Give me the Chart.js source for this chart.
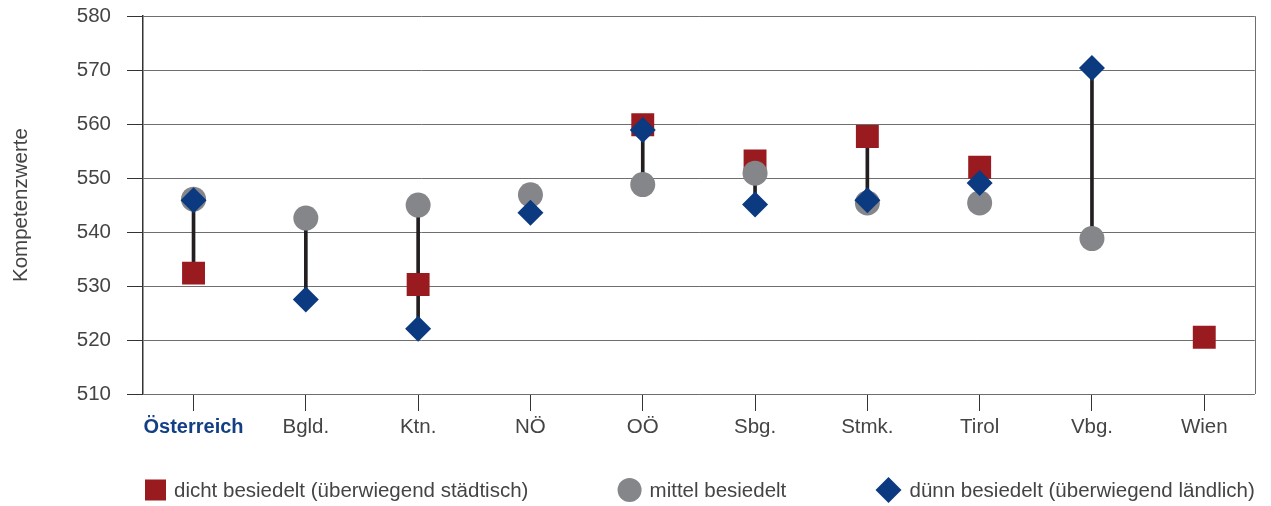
<!DOCTYPE html>
<html>
<head>
<meta charset="utf-8">
<script src="https://cdn.jsdelivr.net/npm/chart.js@4/dist/chart.umd.min.js"></script>
<style>
  html, body { margin: 0; padding: 0; background: #fff; }
  #wrap { width: 1271px; height: 506px; position: relative; }
</style>
</head>
<body>
<div id="wrap"><canvas id="c"></canvas></div>
<script>
const categories = ['Österreich', 'Bgld.', 'Ktn.', 'NÖ', 'OÖ', 'Sbg.', 'Stmk.', 'Tirol', 'Vbg.', 'Wien'];
const dichtBesiedelt = [532.4, null, 530.3, null, 559.9, 553.2, 557.7, 552.0, null, 520.5];
const mittelBesiedelt = [546.1, 542.6, 545.0, 546.9, 548.8, 550.9, 545.4, 545.4, 538.8, null];
const duennBesiedelt = [545.9, 527.5, 522.1, 543.6, 558.9, 545.1, 545.9, 549.1, 570.4, null];
const yTicks = [510, 520, 530, 540, 550, 560, 570, 580];
const seriesNames = ['dicht besiedelt (überwiegend städtisch)', 'mittel besiedelt', 'dünn besiedelt (überwiegend ländlich)'];

const FONT = '"Liberation Sans", Arial, Helvetica, sans-serif';
const FS = 20.5;
const TXT = '#444444';
const C_RED = '#9a1b1f', C_GREY = '#85868a', C_BLUE = '#0b3a80', C_LINE = '#231f20';

const toPoints = arr => arr.map((v, i) => ({ x: i, y: v }));
const ranges = categories.map((_, i) => {
  const vals = [dichtBesiedelt[i], mittelBesiedelt[i], duennBesiedelt[i]].filter(v => v !== null);
  return { x: i, y: [Math.min(...vals), Math.max(...vals)] };
});

const legendPlugin = {
  id: 'customLegend',
  afterDraw(chart) {
    const ctx = chart.ctx, area = chart.chartArea;
    const items = [
      { style: 'rect', color: C_RED, w: 21, text: seriesNames[0] },
      { style: 'circle', color: C_GREY, w: 24, text: seriesNames[1] },
      { style: 'rectRot', color: C_BLUE, w: 26, text: seriesNames[2] }
    ];
    ctx.save();
    ctx.font = FS + 'px ' + FONT;
    ctx.textBaseline = 'middle';
    ctx.textAlign = 'left';
    const gapText = 8;
    const widths = items.map(it => it.w + gapText + ctx.measureText(it.text).width);
    const total = widths.reduce((a, b) => a + b, 0);
    const left = area.left + 2, right = area.right;
    const gap = (right - left - total) / (items.length - 1);
    const cy = 490;
    let x = left;
    items.forEach((it, i) => {
      ctx.fillStyle = it.color;
      ctx.beginPath();
      if (it.style === 'rect') {
        ctx.rect(x, cy - it.w / 2, it.w, it.w);
      } else if (it.style === 'circle') {
        ctx.arc(x + it.w / 2, cy, it.w / 2, 0, Math.PI * 2);
      } else {
        const h = it.w / 2;
        ctx.moveTo(x, cy); ctx.lineTo(x + h, cy - h); ctx.lineTo(x + it.w, cy); ctx.lineTo(x + h, cy + h);
        ctx.closePath();
      }
      ctx.fill();
      ctx.fillStyle = TXT;
      ctx.fillText(it.text, x + it.w + gapText, cy + 1);
      x += widths[i] + gap;
    });
    ctx.restore();
  },
  beforeDatasetsDraw(chart) {
    const ctx = chart.ctx, area = chart.chartArea;
    ctx.save();
    ctx.strokeStyle = '#6e6e6e';
    ctx.lineWidth = 1;
    ctx.beginPath();
    ctx.moveTo(Math.round(area.right) + 0.5, area.top);
    ctx.lineTo(Math.round(area.right) + 0.5, area.bottom);
    ctx.stroke();
    ctx.restore();
  }
};

new Chart(document.getElementById('c'), {
  type: 'bar',
  data: {
    datasets: [
      {
        type: 'bar', label: 'range', data: ranges, backgroundColor: C_LINE,
        barThickness: 3, order: 4, borderWidth: 0
      },
      {
        type: 'line', label: seriesNames[0], data: toPoints(dichtBesiedelt), showLine: false,
        pointStyle: 'rect', pointRadius: 16.2, pointBackgroundColor: C_RED, pointBorderWidth: 0, order: 3
      },
      {
        type: 'line', label: seriesNames[1], data: toPoints(mittelBesiedelt), showLine: false,
        pointStyle: 'circle', pointRadius: 12.5, pointBackgroundColor: C_GREY, pointBorderWidth: 0, order: 2
      },
      {
        type: 'line', label: seriesNames[2], data: toPoints(duennBesiedelt), showLine: false,
        pointStyle: 'rectRot', pointRadius: 13, pointBackgroundColor: C_BLUE, pointBorderWidth: 0, order: 1
      }
    ]
  },
  options: {
    responsive: true,
    maintainAspectRatio: false,
    animation: false,
    events: [],
    layout: { padding: { top: 16, right: 13, left: 0, bottom: 0 } },
    plugins: { legend: { display: false }, tooltip: { enabled: false } },
    scales: {
      x: {
        type: 'linear',
        offset: false,
        min: -0.45, max: 9.45,
        afterBuildTicks: s => { s.ticks = categories.map((_, i) => ({ value: i })); },
        afterFit: s => { s.height = 112; s.paddingLeft = 0; s.paddingRight = 0; },
        grid: { display: true, offset: false, drawOnChartArea: false, drawTicks: true, tickLength: 17, tickColor: '#333', lineWidth: 1 },
        border: { display: false },
        ticks: {
          autoSkip: false, maxRotation: 0, padding: 4,
          callback: v => categories[v],
          color: c => c.index === 0 ? '#133f85' : TXT,
          font: c => ({ family: FONT, size: c.index === 0 ? 20 : FS, weight: c.index === 0 ? 'bold' : 'normal' })
        }
      },
      y: {
        min: 510, max: 580,
        afterBuildTicks: s => { s.ticks = yTicks.map(v => ({ value: v })); },
        afterFit: s => { s.width = 143; s.paddingTop = 0; s.paddingBottom = 0; },
        grid: { color: '#6e6e6e', lineWidth: 1, tickLength: 16, tickColor: '#333' },
        border: { color: '#333', width: 1.5 },
        ticks: { padding: 16, color: TXT, font: { family: FONT, size: FS } },
        title: { display: true, text: 'Kompetenzwerte', color: TXT, font: { family: FONT, size: FS }, padding: { top: 9, bottom: 0 } }
      }
    }
  },
  plugins: [legendPlugin]
});
</script>
</body>
</html>
